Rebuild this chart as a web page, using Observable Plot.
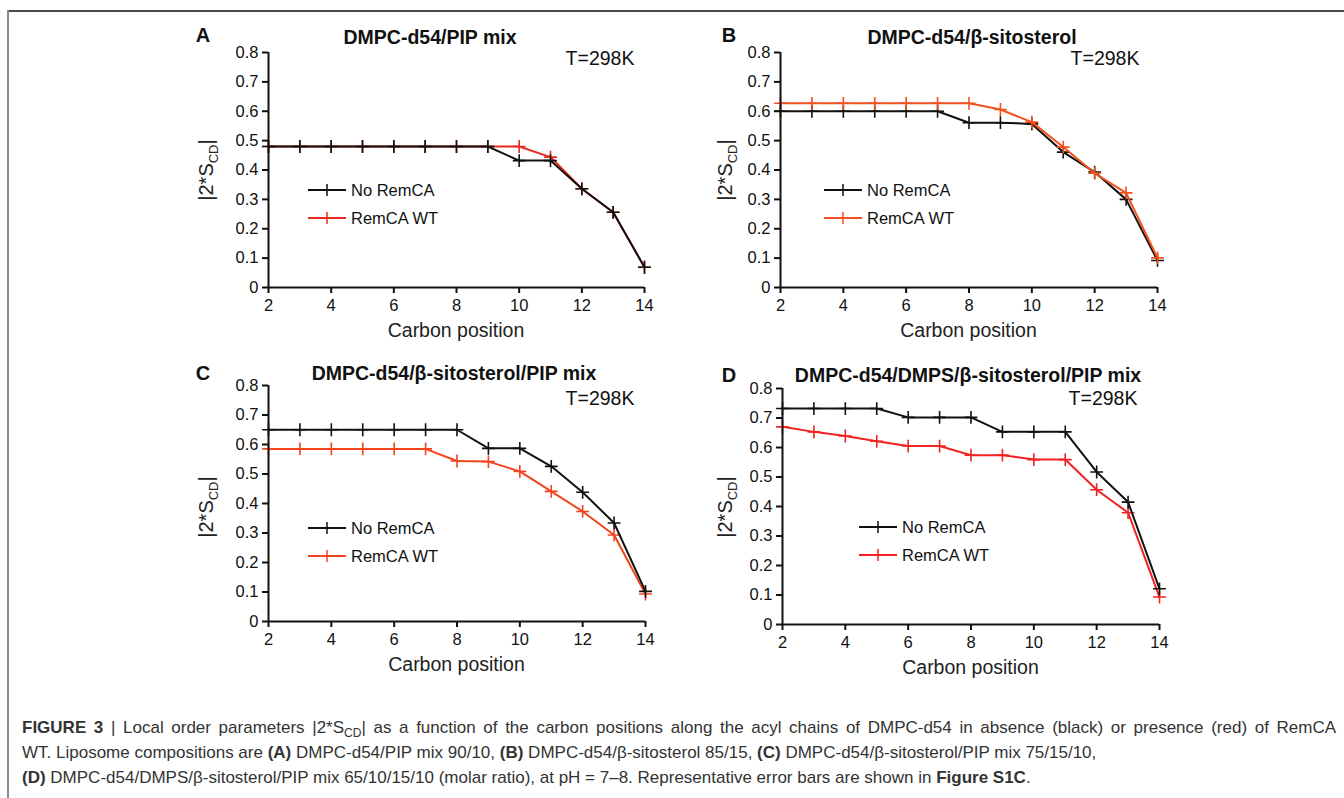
<!DOCTYPE html>
<html>
<head>
<meta charset="utf-8">
<script src="https://cdn.jsdelivr.net/npm/d3@7"></script>
<script src="https://cdn.jsdelivr.net/npm/@observablehq/plot@0.6"></script>
<style>
  html, body { margin: 0; padding: 0; background: #fff; }
  #root { position: relative; width: 1344px; height: 798px; overflow: hidden; font-family: "Liberation Sans", Arial, sans-serif; color: #111; }
  .abs { position: absolute; white-space: nowrap; }
  .letter { font-weight: bold; font-size: 20px; transform: translate(-50%, -50%); }
  .title { font-weight: bold; font-size: 19.5px; transform: translate(-50%, -50%); }
  .temp { font-size: 19.5px; transform: translate(-50%, -50%); }
  .xlab { font-size: 19.5px; transform: translate(-50%, -50%); color: #222; }
  .ylab { font-size: 20px; transform: translate(-50%, -50%) rotate(-90deg); color: #222; }
  .ylab sub { font-size: 13px; }
  .leg { display: flex; align-items: center; height: 22px; font-size: 16.5px; transform: translateY(-50%); }
  .leg svg { margin-right: 5px; }
  .capline { position: absolute; left: 22px; width: 1314px; height: 22px; line-height: 22px; font-size: 17px; color: #333; white-space: nowrap; }
  .capline.just { white-space: normal; text-align: justify; text-align-last: justify; }
  .capline sub { font-size: 12px; line-height: 0; }
  .frameTop { position: absolute; left: 7px; top: 10px; width: 1337px; height: 2px; background: #4a4a4a; }
  .frameLeft { position: absolute; left: 7px; top: 10px; width: 2px; height: 788px; background: #8a8a8a; }
</style>
</head>
<body>
<div id="root">
  <div class="frameTop"></div>
  <div class="frameLeft"></div>
</div>
<script>
// ---- data ----
const carbon = [2, 3, 4, 5, 6, 7, 8, 9, 10, 11, 12, 13, 14];
const xTicks = [2, 4, 6, 8, 10, 12, 14];
const yTicks = [0, 0.1, 0.2, 0.3, 0.4, 0.5, 0.6, 0.7, 0.8];
const seriesNames = ["No RemCA", "RemCA WT"];

const panelLetters = ["A", "B", "C", "D"];
const panelTitles = [
  "DMPC-d54/PIP mix",
  "DMPC-d54/β-sitosterol",
  "DMPC-d54/β-sitosterol/PIP mix",
  "DMPC-d54/DMPS/β-sitosterol/PIP mix"
];
const tempLabel = "T=298K";
const xLabel = "Carbon position";

const A_noRemCA = [0.48, 0.48, 0.48, 0.48, 0.48, 0.48, 0.48, 0.48, 0.432, 0.432, 0.336, 0.256, 0.069];
const A_remCA   = [0.48, 0.48, 0.48, 0.48, 0.48, 0.48, 0.48, 0.48, 0.48, 0.444, 0.336, 0.256, 0.069];
const B_noRemCA = [0.60, 0.60, 0.60, 0.60, 0.60, 0.60, 0.561, 0.561, 0.557, 0.461, 0.393, 0.30, 0.092];
const B_remCA   = [0.627, 0.627, 0.627, 0.627, 0.627, 0.627, 0.627, 0.606, 0.563, 0.478, 0.389, 0.322, 0.101];
const C_noRemCA = [0.65, 0.65, 0.65, 0.65, 0.65, 0.65, 0.65, 0.587, 0.587, 0.526, 0.438, 0.334, 0.102];
const C_remCA   = [0.585, 0.585, 0.585, 0.585, 0.585, 0.585, 0.544, 0.542, 0.509, 0.441, 0.373, 0.293, 0.093];
const D_noRemCA = [0.732, 0.732, 0.732, 0.732, 0.702, 0.702, 0.702, 0.653, 0.653, 0.653, 0.517, 0.415, 0.121];
const D_remCA   = [0.670, 0.653, 0.639, 0.621, 0.605, 0.605, 0.574, 0.574, 0.559, 0.559, 0.457, 0.379, 0.093];

// ---- layout ----
const panels = [
  { no: A_noRemCA, rem: A_remCA, red: "#ea2a20", left: 180, top: 20, m: [32, 36, 53, 88], letter: [203, 35], title: [430, 37], temp: [600, 58], ylab: [208, 170], leg: [308, 190, 218], redTop: false },
  { no: B_noRemCA, rem: B_remCA, red: "#f4501e", left: 700, top: 20, m: [32, 43, 53, 80], letter: [729, 35], title: [972, 37], temp: [1105, 58], ylab: [727, 170], leg: [824, 190, 218], redTop: true },
  { no: C_noRemCA, rem: C_remCA, red: "#f2431e", left: 180, top: 355, m: [30, 35, 54, 88], letter: [203, 373], title: [454, 373], temp: [600, 398], ylab: [208, 507], leg: [308, 528, 556], redTop: false },
  { no: D_noRemCA, rem: D_remCA, red: "#f42222", left: 700, top: 355, m: [33, 41, 51, 82], letter: [729, 375], title: [968, 375], temp: [1103, 398], ylab: [727, 507], leg: [859, 527, 555], redTop: false }
];

const root = document.getElementById("root");
const W = 500, H = 320;

function addDiv(cls, x, y, html) {
  const d = document.createElement("div");
  d.className = "abs " + cls;
  d.style.left = x + "px";
  d.style.top = y + "px";
  d.innerHTML = html;
  root.appendChild(d);
  return d;
}

function swatch(color) {
  return `<svg width="38" height="14" viewBox="0 0 38 14"><line x1="0" y1="7" x2="38" y2="7" stroke="${color}" stroke-width="2"/><line x1="19" y1="1" x2="19" y2="13" stroke="${color}" stroke-width="1.5"/></svg>`;
}

panels.forEach((p, i) => {
  const noRows = carbon.map((c, j) => ({ x: c, y: p.no[j] }));
  const remRows = carbon.map((c, j) => ({ x: c, y: p.rem[j] }));
  const black = "#111";
  const blackMarks = [
    Plot.line(noRows, { x: "x", y: "y", stroke: black, strokeWidth: 2 }),
    Plot.dot(noRows, { x: "x", y: "y", symbol: "plus", r: 4.2, stroke: black, strokeWidth: 1.6 })
  ];
  const redMarks = [
    Plot.line(remRows, { x: "x", y: "y", stroke: p.red, strokeWidth: 2 }),
    Plot.dot(remRows, { x: "x", y: "y", symbol: "plus", r: 4.2, stroke: p.red, strokeWidth: 1.6 })
  ];
  const chart = Plot.plot({
    width: W, height: H,
    marginTop: p.m[0], marginRight: p.m[1], marginBottom: p.m[2], marginLeft: p.m[3],
    x: { domain: [2, 14] },
    y: { domain: [0, 0.8] },
    style: { fontFamily: "'Liberation Sans', Arial, sans-serif", fontSize: "16.5px", color: "#111", background: "transparent", overflow: "visible" },
    marks: [
      Plot.axisX({ ticks: xTicks, tickSize: 6, tickPadding: 6, strokeWidth: 2, label: null, fontSize: 16.5 }),
      Plot.axisY({ ticks: yTicks, tickSize: 6, tickPadding: 4, strokeWidth: 2, label: null, fontSize: 16.5, tickFormat: d => d === 0 ? "0" : d3.format(".1f")(d) }),
      ...(p.redTop ? [...blackMarks, ...redMarks] : [...redMarks, ...blackMarks]),
      Plot.ruleX([2], { stroke: "#111", strokeWidth: 2 }),
      Plot.ruleY([0], { stroke: "#111", strokeWidth: 2 })
    ]
  });
  chart.style.position = "absolute";
  chart.style.left = p.left + "px";
  chart.style.top = p.top + "px";
  root.appendChild(chart);

  addDiv("letter", p.letter[0], p.letter[1], panelLetters[i]);
  addDiv("title", p.title[0], p.title[1], panelTitles[i]);
  addDiv("temp", p.temp[0], p.temp[1], tempLabel);
  addDiv("ylab", p.ylab[0], p.ylab[1], "|2*S<sub>CD</sub>|");
  const axisCenter = p.left + p.m[3] + (W - p.m[3] - p.m[1]) / 2;
  addDiv("xlab", axisCenter, p.top + H - p.m[2] + 43, xLabel);
  addDiv("leg", p.leg[0], p.leg[1], swatch(black) + seriesNames[0]);
  addDiv("leg", p.leg[0], p.leg[2], swatch(p.red) + seriesNames[1]);
});

const captionLines = [
  "<b>FIGURE 3</b> | Local order parameters |2*S<sub>CD</sub>| as a function of the carbon positions along the acyl chains of DMPC-d54 in absence (black) or presence (red) of RemCA",
  "WT. Liposome compositions are <b>(A)</b> DMPC-d54/PIP mix 90/10, <b>(B)</b> DMPC-d54/β-sitosterol 85/15, <b>(C)</b> DMPC-d54/β-sitosterol/PIP mix 75/15/10,",
  "<b>(D)</b> DMPC-d54/DMPS/β-sitosterol/PIP mix 65/10/15/10 (molar ratio), at pH = 7–8. Representative error bars are shown in <b>Figure S1C</b>."
];
captionLines.forEach((html, k) => {
  const d = document.createElement("div");
  d.className = "capline" + (k === 0 ? " just" : "");
  d.style.top = (717 + k * 25) + "px";
  d.innerHTML = html;
  root.appendChild(d);
});
</script>
</body>
</html>
